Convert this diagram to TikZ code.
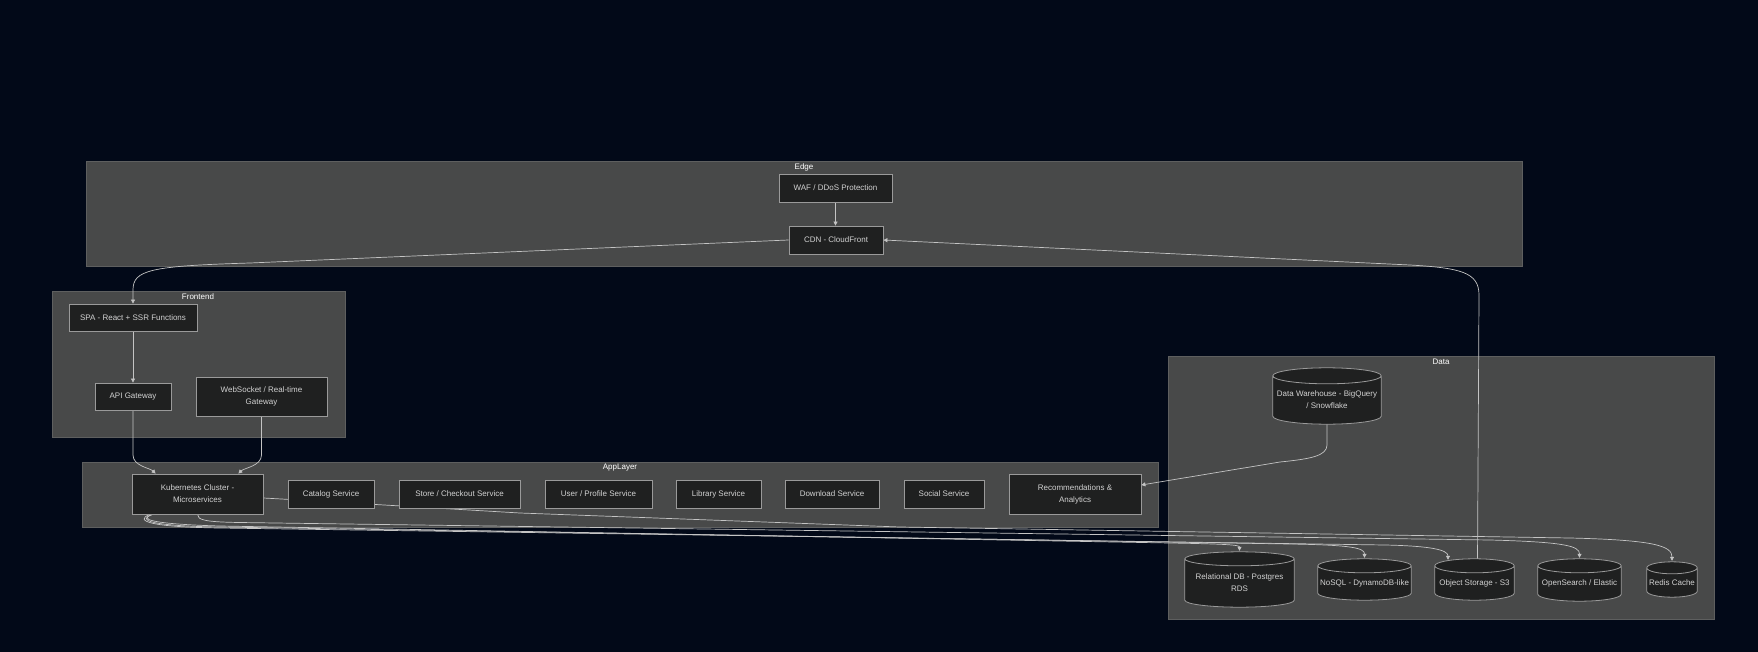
\documentclass[tikz,border=0pt]{standalone}
\usepackage{fontspec}
\setmainfont{Liberation Sans}
\usetikzlibrary{arrows.meta,calc}
\definecolor{bgcol}{HTML}{020918}
\definecolor{clfill}{HTML}{484949}
\definecolor{cldraw}{HTML}{5E5F5F}
\definecolor{ndfill}{HTML}{1F2020}
\definecolor{nddraw}{HTML}{9A9A9A}
\definecolor{txtcol}{HTML}{D2D2D2}
\definecolor{edgecol}{HTML}{C4C4C4}
\pgfdeclarelayer{clusters}
\pgfdeclarelayer{edges}
\pgfdeclarelayer{dbshape}
\pgfsetlayers{clusters,edges,dbshape,main}
\tikzset{
  box/.style={draw=nddraw, fill=ndfill, line width=0.8pt, text=txtcol, align=center,
    font=\fontsize{8}{12}\selectfont, inner sep=0pt},
  dbnode/.style={text=txtcol, align=center, font=\fontsize{8}{12}\selectfont, inner sep=0pt},
  dbline/.style={draw=nddraw, fill=ndfill, line width=0.8pt},
  cluster/.style={draw=cldraw, fill=clfill, line width=0.8pt},
  cltitle/.style={text=white, font=\fontsize{8}{10}\selectfont, inner sep=0pt},
  link/.style={draw=edgecol, line width=0.7pt, -{Triangle[length=4pt,width=4pt]}},
}
\newcommand\cylshape[2]{%
  \begin{pgfonlayer}{dbshape}
  \draw[dbline] let \p1=(#1.north west), \p2=(#1.south east) in
    (\x1,\y1) -- (\x1,\y2+#2)
    arc[start angle=180,end angle=360,x radius={(\x2-\x1)/2},y radius=#2]
    -- (\x2,\y1)
    arc[start angle=0,end angle=180,x radius={(\x2-\x1)/2},y radius=#2] -- cycle
    (\x1,\y1) arc[start angle=180,end angle=360,x radius={(\x2-\x1)/2},y radius=#2];
  \end{pgfonlayer}}
\begin{document}
\begin{tikzpicture}[x=1pt,y=-1pt]
\begin{pgfonlayer}{clusters}
  \fill[bgcol] (0,0) rectangle (1758,652);
  \draw[cluster] (86,161) rectangle (1522,266);
  \draw[cluster] (52,291) rectangle (345,437);
  \draw[cluster] (82,462) rectangle (1158,527);
  \draw[cluster] (1168,356) rectangle (1714,619);
\end{pgfonlayer}
\useasboundingbox (0,0) rectangle (1758,652);

\node[cltitle] (tedge) at (804,167) {Edge};
\node[cltitle] (tfront) at (198,297) {Frontend};
\node[cltitle] (tapp) at (620,468) {AppLayer};
\node[cltitle] (tdata) at (1441,362) {Data};

\node[box, minimum width=113, minimum height=28] (waf) at (835.5,188) {WAF / DDoS Protection};
\node[box, minimum width=94, minimum height=28] (cdn) at (836,240) {CDN - CloudFront};
\node[box, minimum width=128, minimum height=27] (spa) at (133,317.5) {SPA - React + SSR Functions};
\node[box, minimum width=76, minimum height=27] (api) at (133,396.5) {API Gateway};
\node[box, minimum width=131, minimum height=39] (ws) at (261.5,396.5) {WebSocket / Real-time\\Gateway};
\node[box, minimum width=131, minimum height=40] (k8s) at (197.5,494) {Kubernetes Cluster -\\Microservices};
\node[box, minimum width=86, minimum height=28] (catalog) at (331,494) {Catalog Service};
\node[box, minimum width=121, minimum height=28] (store) at (459.5,494) {Store / Checkout Service};
\node[box, minimum width=107, minimum height=28] (user) at (598.5,494) {User / Profile Service};
\node[box, minimum width=85, minimum height=28] (library) at (718.5,494) {Library Service};
\node[box, minimum width=94, minimum height=28] (download) at (832,494) {Download Service};
\node[box, minimum width=80, minimum height=28] (social) at (944,494) {Social Service};
\node[box, minimum width=132, minimum height=40] (reco) at (1075,494) {Recommendations \&\\Analytics};

\node[dbnode, minimum width=108, minimum height=48] (dw) at (1327,400) {Data Warehouse - BigQuery\\/ Snowflake};
\node[dbnode, minimum width=109, minimum height=48] (rds) at (1239.5,583) {Relational DB - Postgres\\RDS};
\node[dbnode, minimum width=93, minimum height=34] (nosql) at (1364.5,583) {NoSQL - DynamoDB-like};
\node[dbnode, minimum width=79, minimum height=34] (s3) at (1474.5,583) {Object Storage - S3};
\node[dbnode, minimum width=83, minimum height=35] (search) at (1579.5,583.5) {OpenSearch / Elastic};
\node[dbnode, minimum width=50, minimum height=29] (redis) at (1672,582.5) {Redis Cache};
\cylshape{dw}{8pt}
\cylshape{rds}{7pt}
\cylshape{nosql}{7pt}
\cylshape{s3}{7pt}
\cylshape{search}{7pt}
\cylshape{redis}{6pt}

\begin{pgfonlayer}{edges}
  \draw[link] (waf.south) -- (waf.south |- cdn.north);
  \draw[link] (cdn.west) -- (250,263) .. controls (150,266) and (133,270) .. (133,290) -- (spa.north);
  \draw[link] (spa.south) -- (api.north);
  \draw[link] (api.south) -- (133,455) .. controls (133,466) and (150,468) .. ($(k8s.north west)+(24,0)$);
  \draw[link] (ws.south) -- (261.5,455) .. controls (261.5,466) and (244,468) .. ($(k8s.north east)+(-25,0)$);
  \draw[link] (dw.south) -- (1327,445) .. controls (1327,456) and (1310,459) .. (1280,462) -- ($(reco.east)+(0,-9)$);
  \draw[link] ($(s3.north)+(3,-7)$) -- (1479,295) .. controls (1479,272) and (1460,268) .. (1410,265) -- (cdn.east);
  \draw[link] ($(k8s.south west)+(21,0)$) .. controls (138,519) and (150,524) .. (220,526) -- (1170,543) .. controls (1228,544) and (1239.5,545) .. ($(rds.north)+(0,-8)$);
  \draw[link] ($(k8s.south west)+(21,0)$) .. controls (136,520) and (150,526) .. (220,527) -- (1290,544) .. controls (1352,545) and (1364.5,548) .. ($(nosql.north)+(0,-8)$);
  \draw[link] ($(k8s.south west)+(18,0)$) .. controls (134,521) and (150,527) .. (220,528) -- (1385,545) .. controls (1432,546) and (1448,550) .. ($(s3.north)+(-26.5,-6)$);
  \draw[link] (k8s.south) .. controls (197.5,520) and (205,522) .. (240,522.5) -- (1490,540) .. controls (1565,542) and (1579.5,546) .. ($(search.north)+(0,-8)$);
  \draw[link] ($(k8s.east)+(0,4)$) .. controls (300,500) and (350,503) .. (520,513) -- (900,527) -- (1570,538) .. controls (1655,540) and (1672,546) .. ($(redis.north)+(0,-7)$);
\end{pgfonlayer}
\end{tikzpicture}
\end{document}
